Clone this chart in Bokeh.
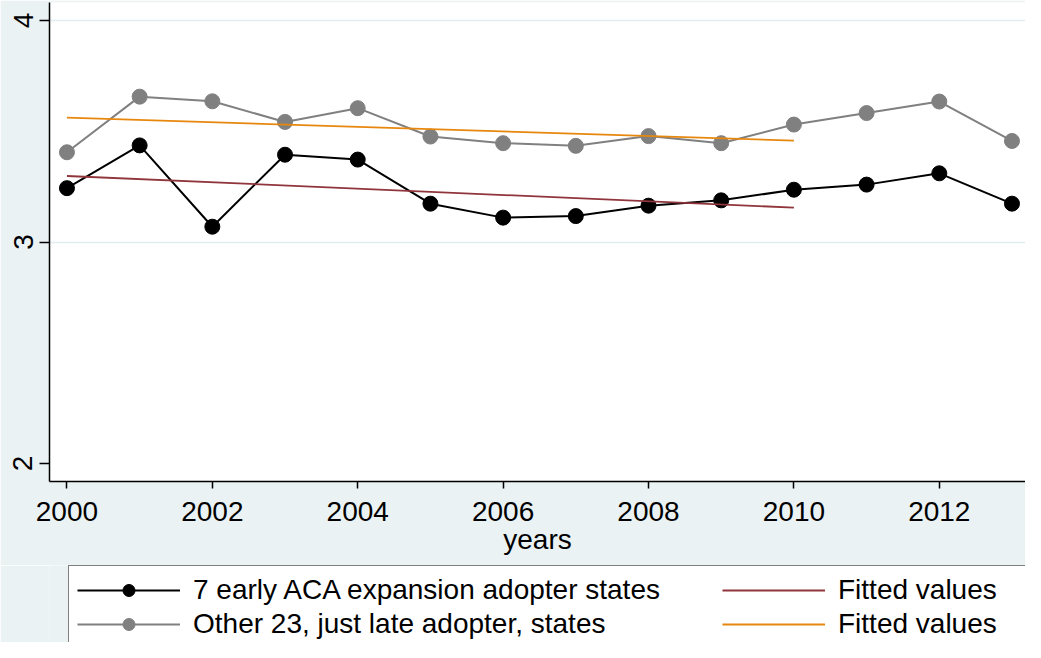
from bokeh.plotting import figure
from bokeh.models import Legend, LegendItem, FixedTicker, Range1d
from bokeh.layouts import column
from bokeh.embed import file_html
from bokeh.resources import INLINE

# ---- data ----
years = [2000, 2001, 2002, 2003, 2004, 2005, 2006, 2007, 2008, 2009, 2010, 2011, 2012, 2013]
early = [3.243, 3.436, 3.069, 3.394, 3.372, 3.173, 3.110, 3.117, 3.164, 3.188, 3.236, 3.259, 3.310, 3.173]
late = [3.405, 3.656, 3.635, 3.542, 3.604, 3.476, 3.446, 3.434, 3.478, 3.446, 3.530, 3.582, 3.634, 3.456]
fit_years = [2000, 2010]
fit_early = [3.298, 3.155]
fit_late = [3.561, 3.458]
x_ticks = [2000, 2002, 2004, 2006, 2008, 2010, 2012]
y_ticks = [2, 3, 4]
grid_ticks = [3, 4]
labels = ["7 early ACA expansion adopter states",
          "Other 23, just late adopter, states",
          "Fitted values", "Fitted values"]

FONT = "Liberation Sans"
FS = "28px"
BG = "#eaf2f3"
C_EARLY = "black"
C_LATE = "#808080"
C_FIT1 = "#90353b"
C_FIT2 = "#e8870e"


def draw(fig):
    r1l = fig.line(years, early, line_color=C_EARLY, line_width=2)
    r1s = fig.scatter(years, early, size=15, fill_color=C_EARLY, line_color=C_EARLY)
    r2l = fig.line(years, late, line_color=C_LATE, line_width=2)
    r2s = fig.scatter(years, late, size=15, fill_color=C_LATE, line_color=C_LATE)
    r3 = fig.line(fit_years, fit_early, line_color=C_FIT1, line_width=1.8)
    r4 = fig.line(fit_years, fit_late, line_color=C_FIT2, line_width=1.8)
    return r1l, r1s, r2l, r2s, r3, r4


# ---- main plot ----
p = figure(width=1025, height=565, output_backend="svg", toolbar_location=None,
           x_range=Range1d(1999.76, 2013.186), y_range=Range1d(1.919, 4.081),
           min_border_left=49, min_border_right=0, min_border_top=2,
           min_border_bottom=84)
p.background_fill_color = "white"
p.border_fill_color = BG
p.outline_line_color = None
draw(p)

p.xaxis.ticker = FixedTicker(ticks=x_ticks)
p.yaxis.ticker = FixedTicker(ticks=y_ticks)
p.xaxis.axis_label = "years"
for ax in (p.xaxis, p.yaxis):
    ax.axis_line_color = "black"
    ax.axis_line_width = 1.5
    ax.major_tick_line_color = "black"
    ax.major_tick_line_width = 1.5
    ax.major_tick_in = 0
    ax.minor_tick_out = 0
    ax.minor_tick_in = 0
    ax.major_label_text_font = FONT
    ax.major_label_text_font_size = FS
    ax.major_label_text_color = "black"
    ax.axis_label_text_font = FONT
    ax.axis_label_text_font_size = FS
    ax.axis_label_text_font_style = "normal"
    ax.axis_label_text_color = "black"
p.xaxis.major_tick_out = 7
p.xaxis.major_label_standoff = 13
p.xaxis.axis_label_standoff = 0
p.yaxis.major_tick_out = 10
p.yaxis.major_label_standoff = 7
p.yaxis.major_label_orientation = "vertical"

p.xgrid.grid_line_color = None
p.ygrid.ticker = FixedTicker(ticks=grid_ticks)
p.ygrid.grid_line_color = "#e3edf1"
p.ygrid.grid_line_width = 1.5

# ---- legend strip (its own figure so the box is cut off at the bottom) ----
q = figure(width=1025, height=77, output_backend="svg", toolbar_location=None,
           x_range=Range1d(0, 1), y_range=Range1d(0, 1),
           min_border_left=0, min_border_right=0, min_border_top=0,
           min_border_bottom=0, x_axis_type=None, y_axis_type=None)
q.background_fill_color = BG
q.border_fill_color = BG
q.outline_line_color = None
q.grid.visible = False
r1l, r1s, r2l, r2s, r3, r4 = draw(q)

legend = Legend(items=[
    LegendItem(label=labels[0], renderers=[r1l, r1s]),
    LegendItem(label=labels[1], renderers=[r2l, r2s]),
    LegendItem(label=labels[2], renderers=[r3]),
    LegendItem(label=labels[3], renderers=[r4]),
], location=(19, -7), ncols=2, orientation="vertical")
legend.margin = 0
legend.padding = 8
legend.spacing = 2
legend.glyph_width = 103
legend.glyph_height = 30
legend.label_height = 30
legend.label_width = 527
legend.label_standoff = 13
legend.label_text_font = FONT
legend.label_text_font_size = FS
legend.label_text_color = "black"
legend.border_line_color = "black"
legend.border_line_width = 1.5
legend.background_fill_color = "white"
legend.background_fill_alpha = 1.0
q.add_layout(legend)

layout = column(p, q, spacing=0)
open("out.html", "w").write(file_html(layout, INLINE))
